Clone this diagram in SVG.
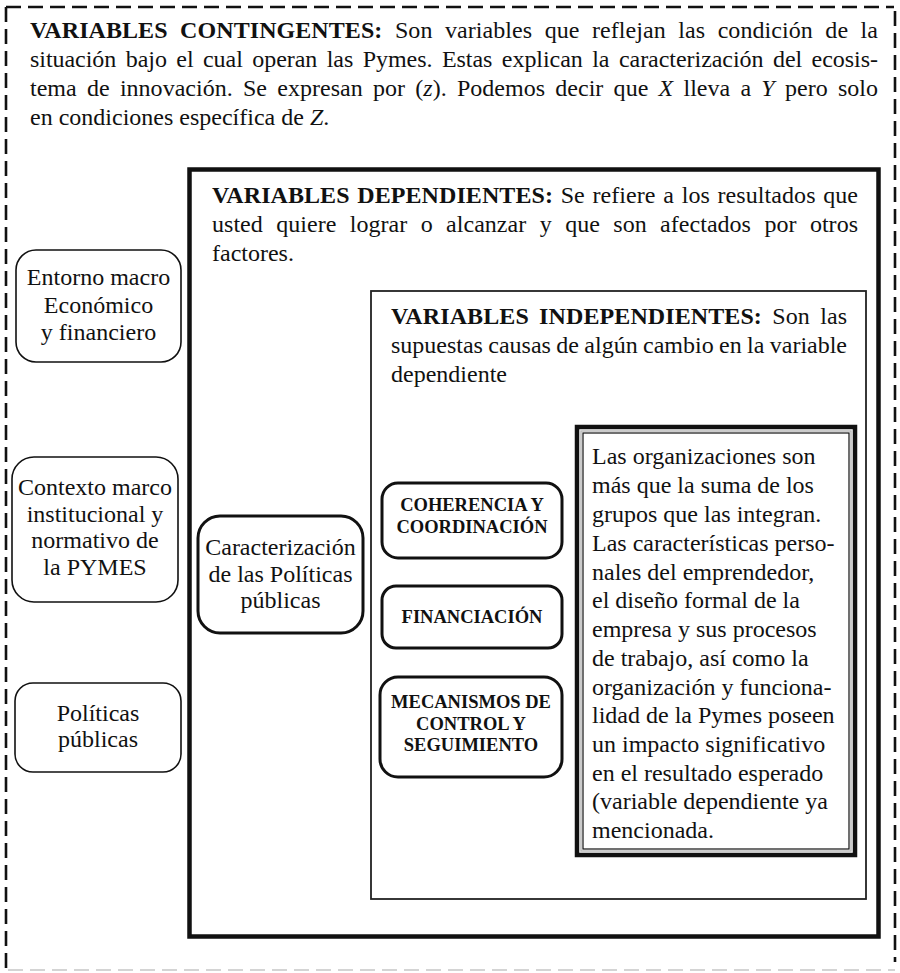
<svg xmlns="http://www.w3.org/2000/svg" width="900" height="973" viewBox="0 0 900 973">
<style>
text{font-family:"Liberation Serif","Times New Roman",serif;fill:#111;}
.t{font-size:24px;}
.c{font-size:24px;text-anchor:middle;}
.b{font-weight:bold;}
.bc{font-size:18.5px;font-weight:bold;text-anchor:middle;}
.i{font-style:italic;}
.node{fill:#fff;stroke:#111;stroke-width:1.6;}
.nodeb{fill:#fff;stroke:#111;stroke-width:3;}
.dash{stroke:#111;stroke-width:2.6;stroke-dasharray:15 7;fill:none;}
</style>
<rect width="900" height="973" fill="#fff"/>
<g id="contingentes">
<line class="dash" x1="6" y1="7" x2="894" y2="7"/>
<line class="dash" x1="6" y1="7" x2="6" y2="970"/>
<line class="dash" x1="895" y1="11" x2="895" y2="962" stroke-width="3"/>
<line x1="8" y1="970" x2="895" y2="970" stroke="#d4d4d4" stroke-width="2" stroke-dasharray="15 7"/>
<text class="t" x="30" y="38" word-spacing="6.4" textLength="848" lengthAdjust="spacing"><tspan class="b">VARIABLES CONTINGENTES:</tspan> Son variables que reflejan las condición de la</text>
<text class="t" x="30" y="67" word-spacing="3.5" textLength="848" lengthAdjust="spacing">situación bajo el cual operan las Pymes. Estas explican la caracterización del ecosis-</text>
<text class="t" x="30" y="96" word-spacing="4.2" textLength="848" lengthAdjust="spacing">tema de innovación. Se expresan por (<tspan class="i">z</tspan>). Podemos decir que <tspan class="i">X</tspan> lleva a <tspan class="i">Y</tspan> pero solo</text>
<text class="t" x="30" y="125">en condiciones específica de <tspan class="i">Z</tspan>.</text>
</g>
<g id="dependientes">
<rect x="189.5" y="169.5" width="689" height="767" fill="none" stroke="#111" stroke-width="4.5"/>
<text class="t" x="212" y="203" word-spacing="1.6" textLength="646" lengthAdjust="spacing"><tspan class="b">VARIABLES DEPENDIENTES:</tspan> Se refiere a los resultados que</text>
<text class="t" x="212" y="232" word-spacing="7.4" textLength="646" lengthAdjust="spacing">usted quiere lograr o alcanzar y que son afectados por otros</text>
<text class="t" x="212" y="261">factores.</text>
</g>
<g id="independientes">
<rect x="371" y="291" width="495" height="608" fill="none" stroke="#222" stroke-width="1.8"/>
<text class="t" x="391" y="324" word-spacing="4.2" textLength="456" lengthAdjust="spacing"><tspan class="b">VARIABLES INDEPENDIENTES:</tspan> Son las</text>
<text class="t" x="391" y="353" word-spacing="-0.6" textLength="456" lengthAdjust="spacing">supuestas causas de algún cambio en la variable</text>
<text class="t" x="391" y="382">dependiente</text>
</g>
<g id="organizaciones">
<rect x="577" y="427" width="278" height="428" fill="#fff" stroke="#111" stroke-width="4.5"/>
<rect x="581" y="431" width="270" height="420" fill="none" stroke="#bbb" stroke-width="1.5"/>
<rect x="583" y="433" width="266" height="416" fill="none" stroke="#111" stroke-width="1.2"/>
<text class="t" x="592" y="464">Las organizaciones son</text>
<text class="t" x="592" y="493">más que la suma de los</text>
<text class="t" x="592" y="522">grupos que las integran.</text>
<text class="t" x="592" y="551">Las características perso-</text>
<text class="t" x="592" y="580">nales del emprendedor,</text>
<text class="t" x="592" y="608">el diseño formal de la</text>
<text class="t" x="592" y="637">empresa y sus procesos</text>
<text class="t" x="592" y="666">de trabajo, así como la</text>
<text class="t" x="592" y="695">organización y funciona-</text>
<text class="t" x="592" y="723">lidad de la Pymes poseen</text>
<text class="t" x="592" y="752">un impacto significativo</text>
<text class="t" x="592" y="781">en el resultado esperado</text>
<text class="t" x="592" y="809">(variable dependiente ya</text>
<text class="t" x="592" y="838">mencionada.</text>
</g>
<g id="entorno">
<rect class="node" x="16" y="250" width="165" height="112" rx="20"/>
<text class="c" x="98.5" y="285">Entorno macro</text>
<text class="c" x="98.5" y="313">Económico</text>
<text class="c" x="98.5" y="340">y financiero</text>
</g>
<g id="contexto">
<rect class="node" x="12" y="457" width="166" height="145" rx="22"/>
<text class="c" x="95" y="495">Contexto marco</text>
<text class="c" x="95" y="522">institucional y</text>
<text class="c" x="95" y="548">normativo de</text>
<text class="c" x="95" y="575">la PYMES</text>
</g>
<g id="politicas">
<rect class="node" x="15" y="683" width="166" height="89" rx="18"/>
<text class="c" x="98" y="721">Políticas</text>
<text class="c" x="98" y="747">públicas</text>
</g>
<g id="caracterizacion">
<rect class="nodeb" x="198" y="516" width="165" height="117" rx="22"/>
<text class="c" x="280.5" y="555">Caracterización</text>
<text class="c" x="280.5" y="582">de las Políticas</text>
<text class="c" x="280.5" y="608">públicas</text>
</g>
<g id="coherencia">
<rect class="nodeb" x="382" y="483" width="180" height="75" rx="16"/>
<text class="bc" x="472" y="511">COHERENCIA Y</text>
<text class="bc" x="472" y="533">COORDINACIÓN</text>
</g>
<g id="financiacion">
<rect class="nodeb" x="382" y="586" width="180" height="62" rx="14"/>
<text class="bc" x="472" y="623">FINANCIACIÓN</text>
</g>
<g id="mecanismos">
<rect class="nodeb" x="380" y="677" width="182" height="100" rx="18"/>
<text class="bc" x="471" y="708">MECANISMOS DE</text>
<text class="bc" x="471" y="730">CONTROL Y</text>
<text class="bc" x="471" y="751">SEGUIMIENTO</text>
</g>
<g id="connectors"></g>
</svg>
